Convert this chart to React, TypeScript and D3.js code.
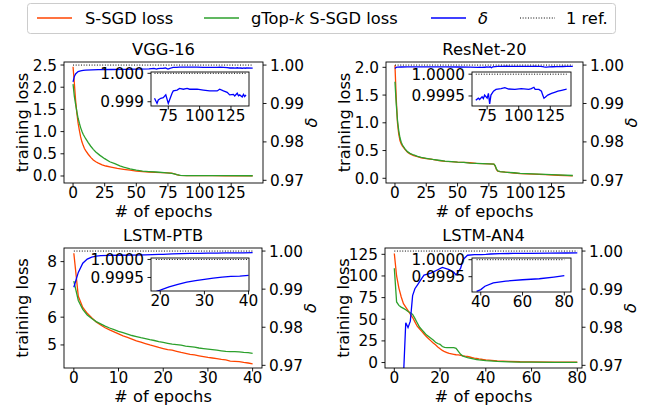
import React from 'react';
import * as d3 from 'd3';

type Pt = [number, number];

const FONT = '"DejaVu Sans", Verdana, sans-serif';
const RED = '#ff4500';
const GREEN = '#2ca02c';
const BLUE = '#0000ff';

// ---- legend / titles ----
const legendLabels = ['S-SGD loss', 'gTop-k S-SGD loss', 'δ', '1 ref.'];
const panelTitles = ['VGG-16', 'ResNet-20', 'LSTM-PTB', 'LSTM-AN4'];

// ---- ticks ----
const deltaTicks = [0.97, 0.98, 0.99, 1.0];
const cnnXTicks = [0, 25, 50, 75, 100, 125];
const ptbXTicks = [0, 10, 20, 30, 40];
const an4XTicks = [0, 20, 40, 60, 80];
const vggLossTicks = [0, 0.5, 1, 1.5, 2, 2.5];
const resLossTicks = [0, 0.5, 1, 1.5, 2];
const ptbLossTicks = [5, 6, 7, 8];
const an4LossTicks = [0, 25, 50, 75, 100, 125];
const cnnInsetXTicks = [75, 100, 125];
const ptbInsetXTicks = [20, 30, 40];
const an4InsetXTicks = [40, 60, 80];
const vggInsetYTicks = [0.999, 1.0];
const fineInsetYTicks = [0.9995, 1.0];

// ---- VGG-16 ----
const vggSsgd: Pt[] = [
  [0, 2.46], [1, 2.1], [2, 1.71], [3, 1.42], [4, 1.19], [5, 1.03], [6, 0.88], [7, 0.77],
  [8, 0.69], [9, 0.62], [10, 0.57], [12, 0.49], [14, 0.42], [16, 0.36], [18, 0.32],
  [20, 0.29], [23, 0.25], [26, 0.225], [30, 0.2], [35, 0.17], [40, 0.15], [45, 0.13],
  [50, 0.11], [55, 0.1], [60, 0.09], [65, 0.08], [70, 0.075], [75, 0.07], [78, 0.065],
  [80, 0.05], [82, 0.03], [84, 0.015], [90, 0.01], [100, 0.008], [110, 0.006],
  [120, 0.005], [130, 0.004], [142, 0.004],
];
const vggGtopk: Pt[] = [
  [0, 2.07], [1, 1.8], [2, 1.62], [3, 1.45], [4, 1.3], [5, 1.19], [6, 1.09], [7, 1.01],
  [8, 0.94], [9, 0.89], [10, 0.84], [12, 0.75], [14, 0.67], [16, 0.6], [18, 0.54],
  [21, 0.47], [25, 0.39], [29, 0.32], [33, 0.28], [37, 0.23], [40, 0.2], [45, 0.16],
  [50, 0.13], [55, 0.11], [60, 0.1], [66, 0.09], [72, 0.075], [78, 0.06], [80, 0.05],
  [82, 0.03], [85, 0.015], [90, 0.01], [100, 0.008], [120, 0.006], [142, 0.005],
];
const vggDelta: Pt[] = [
  [0, 0.9956], [1, 0.997], [2, 0.9977], [3, 0.998], [4, 0.9983], [6, 0.9985], [8, 0.9986],
  [10, 0.9987], [15, 0.99875], [20, 0.9988], [30, 0.99885], [40, 0.9989], [50, 0.99895],
  [60, 0.999], [64, 0.99912], [66, 0.99894], [67, 0.99906], [69, 0.99912], [71, 0.99914],
  [73, 0.99924], [75, 0.99894], [76, 0.99906], [78, 0.9993], [79, 0.99938], [82, 0.99941],
  [84, 0.99947], [87, 0.99944], [90, 0.99947], [92, 0.99944], [98, 0.99944], [103, 0.99941],
  [108, 0.99938], [114, 0.99938], [116, 0.99944], [119, 0.99938], [122, 0.99933],
  [124, 0.99924], [127, 0.99926], [128, 0.9992], [130, 0.9993], [131, 0.99921],
  [132, 0.99924], [134, 0.99917], [135, 0.99926], [136, 0.99918], [137, 0.99924],
  [142, 0.9992],
];

// ---- ResNet-20 ----
const resSsgd: Pt[] = [
  [0, 2.04], [1, 1.45], [2, 1.0], [3, 0.8], [4, 0.68], [5, 0.62], [6, 0.58], [8, 0.52],
  [10, 0.47], [12, 0.44], [15, 0.41], [18, 0.39], [21, 0.37], [25, 0.355], [30, 0.34],
  [35, 0.32], [40, 0.305], [45, 0.3], [50, 0.29], [55, 0.285], [60, 0.28], [65, 0.27],
  [70, 0.265], [75, 0.26], [79, 0.255], [80, 0.22], [81, 0.16], [82, 0.13], [84, 0.12],
  [88, 0.11], [95, 0.095], [100, 0.085], [110, 0.075], [120, 0.065], [130, 0.055],
  [142, 0.045],
];
const resGtopk: Pt[] = [
  [0, 1.74], [1, 1.35], [2, 1.05], [3, 0.86], [4, 0.73], [5, 0.65], [6, 0.6], [8, 0.53],
  [10, 0.48], [12, 0.45], [15, 0.42], [18, 0.395], [21, 0.375], [25, 0.36], [30, 0.34],
  [35, 0.325], [40, 0.31], [45, 0.3], [50, 0.29], [55, 0.285], [60, 0.275], [65, 0.27],
  [70, 0.265], [75, 0.26], [79, 0.255], [80, 0.23], [81, 0.17], [82, 0.135], [84, 0.12],
  [88, 0.11], [95, 0.1], [100, 0.09], [110, 0.08], [120, 0.07], [130, 0.06], [142, 0.05],
];
const resDelta: Pt[] = [
  [0, 0.9991], [1, 0.9994], [2, 0.99945], [5, 0.9995], [10, 0.99952], [20, 0.99955],
  [30, 0.99955], [40, 0.99952], [50, 0.9995], [60, 0.99945], [66, 0.9994], [68, 0.99945],
  [69, 0.99942], [71, 0.99948], [72, 0.99944], [73, 0.99952], [75, 0.99945], [76, 0.99956],
  [77, 0.99932], [78, 0.99952], [80, 0.99961], [82, 0.99965], [86, 0.99967], [89, 0.99969],
  [92, 0.99966], [97, 0.99965], [102, 0.99967], [108, 0.99965], [110, 0.99967],
  [112, 0.9997], [113, 0.99965], [116, 0.99965], [118, 0.99961], [119, 0.99952],
  [120, 0.99945], [121, 0.99947], [123, 0.99952], [126, 0.99956], [129, 0.99959],
  [131, 0.99961], [134, 0.99963], [137, 0.99965], [138, 0.99966], [142, 0.99966],
];

// ---- LSTM-PTB ----
const ptbSsgd: Pt[] = [
  [0, 8.3], [1, 6.75], [2, 6.35], [3, 6.14], [4, 5.98], [5, 5.83], [6, 5.72], [7, 5.62],
  [8, 5.54], [9, 5.47], [10, 5.4], [11, 5.33], [12, 5.27], [13, 5.21], [14, 5.15],
  [15, 5.1], [16, 5.05], [17, 5.0], [18, 4.96], [19, 4.91], [20, 4.87], [21, 4.83],
  [22, 4.81], [23, 4.77], [24, 4.73], [25, 4.7], [26, 4.66], [27, 4.64], [28, 4.61],
  [29, 4.58], [30, 4.55], [31, 4.53], [32, 4.51], [33, 4.48], [34, 4.46], [35, 4.42],
  [36, 4.41], [37, 4.4], [38, 4.37], [39, 4.35], [40, 4.32],
];
const ptbGtopk: Pt[] = [
  [0, 7.3], [1, 6.6], [2, 6.28], [3, 6.08], [4, 5.95], [5, 5.84], [6, 5.76], [7, 5.68],
  [8, 5.61], [9, 5.55], [10, 5.49], [11, 5.44], [12, 5.39], [13, 5.34], [14, 5.3],
  [15, 5.26], [16, 5.23], [17, 5.19], [18, 5.16], [19, 5.12], [20, 5.09], [21, 5.06],
  [22, 5.03], [23, 5.01], [24, 4.99], [25, 4.96], [26, 4.94], [27, 4.92], [28, 4.89],
  [29, 4.87], [30, 4.85], [31, 4.83], [32, 4.81], [33, 4.79], [34, 4.77], [35, 4.76],
  [36, 4.76], [37, 4.75], [38, 4.73], [39, 4.72], [40, 4.7],
];
const ptbDelta: Pt[] = [
  [0, 0.9905], [1, 0.9944], [2, 0.9968], [3, 0.9979], [4, 0.9984], [5, 0.99865],
  [6, 0.9988], [8, 0.99885], [10, 0.9989], [13, 0.99895], [16, 0.999], [19, 0.99911],
  [20, 0.99915], [22, 0.99924], [24, 0.99931], [26, 0.99937], [28, 0.99941], [30, 0.99945],
  [32, 0.99948], [34, 0.99951], [36, 0.99953], [38, 0.99954], [40, 0.99956],
];

// ---- LSTM-AN4 ----
const an4Ssgd: Pt[] = [
  [0, 126], [1, 100], [2, 86], [3, 76], [4, 68], [5, 64], [6, 60], [7, 56], [8, 52],
  [9, 47], [10, 42], [11, 39], [12, 36], [13, 33], [14, 30], [15, 27.5], [16, 25],
  [17, 22.5], [18, 20.5], [19, 18], [20, 16], [21, 14], [22, 12.5], [23, 11.5],
  [24, 10.5], [25, 10], [26, 9.5], [27, 9], [28, 8.8], [29, 8.3], [30, 7.8], [31, 7.3],
  [32, 7], [33, 6.4], [34, 5.8], [35, 5.2], [36, 4.7], [37, 4.2], [38, 3.8], [39, 3.4],
  [40, 3], [45, 2], [50, 1.4], [55, 0.9], [60, 0.7], [70, 0.5], [80, 0.4],
];
const an4Gtopk: Pt[] = [
  [0, 109], [1, 70], [2, 66], [3, 64], [4, 62.5], [5, 61], [6, 59], [7, 57.5], [8, 55.5],
  [9, 51], [10, 46], [11, 41], [12, 38], [13, 35], [14, 32], [15, 30], [16, 28], [17, 26],
  [18, 23.5], [19, 22], [20, 21], [21, 18.5], [22, 17.5], [23, 17.2], [24, 17.3],
  [25, 17.3], [26, 17.2], [27, 16.5], [28, 13], [29, 9.5], [30, 7.5], [31, 6.5], [32, 5.8],
  [33, 5.2], [34, 4.6], [35, 4], [36, 3.5], [37, 3.1], [38, 2.8], [39, 2.5], [40, 2.2],
  [45, 1.3], [50, 0.8], [55, 0.5], [60, 0.4], [70, 0.3], [80, 0.3],
];
const an4Delta: Pt[] = [
  [0, 0.93], [2, 0.95], [4, 0.967], [5, 0.9812], [6, 0.9799], [7, 0.9816], [8, 0.9883],
  [9, 0.9901], [10, 0.991], [12, 0.9928], [13, 0.9937], [16, 0.9942], [19, 0.9951],
  [21, 0.9957], [24, 0.9951], [26, 0.9944], [27, 0.9937], [29, 0.9955], [30, 0.9977],
  [32, 0.9989], [35, 0.99905], [38, 0.99907], [40, 0.99912], [42, 0.99922], [46, 0.99932],
  [52, 0.99937], [60, 0.99941], [68, 0.99944], [75, 0.99949], [80, 0.99953],
];

const DELTA_DOMAIN: [number, number] = [0.9693, 1.0008];

interface Box { x0: number; x1: number; y0: number; y1: number }

const panels = [
  {
    title: panelTitles[0], ssgd: vggSsgd, gtopk: vggGtopk, delta: vggDelta,
    xTicks: cnnXTicks, lossTicks: vggLossTicks, lossFmt: '.1f',
    xDomain: [-7.15, 150.15], lossDomain: [-0.158, 2.568],
    box: { x0: 64, x1: 263, y0: 62, y1: 183 }, inset: { x0: 151, x1: 249, y0: 72, y1: 106 },
    insetRange: [64, 137], insetXDomain: [61.2, 139.4], insetYDomain: [0.99885, 1.000046],
    insetXTicks: cnnInsetXTicks, insetYTicks: vggInsetYTicks, insetFmt: '.3f',
  },
  {
    title: panelTitles[1], ssgd: resSsgd, gtopk: resGtopk, delta: resDelta,
    xTicks: cnnXTicks, lossTicks: resLossTicks, lossFmt: '.1f',
    xDomain: [-7.15, 150.15], lossDomain: [-0.085, 2.096],
    box: { x0: 386, x1: 583, y0: 62, y1: 183 }, inset: { x0: 472, x1: 571, y0: 72, y1: 106 },
    insetRange: [66, 138], insetXDomain: [63, 141.4], insetYDomain: [0.99927, 1.00005],
    insetXTicks: cnnInsetXTicks, insetYTicks: fineInsetYTicks, insetFmt: '.4f',
  },
  {
    title: panelTitles[2], ssgd: ptbSsgd, gtopk: ptbGtopk, delta: ptbDelta,
    xTicks: ptbXTicks, lossTicks: ptbLossTicks, lossFmt: 'd',
    xDomain: [-2.2, 42.1], lossDomain: [4.17, 8.49],
    box: { x0: 64, x1: 262, y0: 248, y1: 368 }, inset: { x0: 151, x1: 249, y0: 258, y1: 291 },
    insetRange: [19, 40], insetXDomain: [17.9, 40.1], insetYDomain: [0.999125, 1.00004],
    insetXTicks: ptbInsetXTicks, insetYTicks: fineInsetYTicks, insetFmt: '.4f',
  },
  {
    title: panelTitles[3], ssgd: an4Ssgd, gtopk: an4Gtopk, delta: an4Delta,
    xTicks: an4XTicks, lossTicks: an4LossTicks, lossFmt: 'd',
    xDomain: [-4.07, 82.05], lossDomain: [-6.3, 132.3],
    box: { x0: 385, x1: 582, y0: 248, y1: 368 }, inset: { x0: 472, x1: 571, y0: 258, y1: 292 },
    insetRange: [38, 80], insetXDomain: [35.8, 83.2], insetYDomain: [0.99905, 1.00005],
    insetXTicks: an4InsetXTicks, insetYTicks: fineInsetYTicks, insetFmt: '.4f',
  },
];

type PanelSpec = (typeof panels)[number];

const TICK = 3.5;
const TICK_FS = 15.3;
const LABEL_FS = 16.3;
const LW = 1.3;

const Panel = ({ p, id }: { p: PanelSpec; id: number }) => {
  const box: Box = p.box;
  const ib: Box = p.inset;
  const x = d3.scaleLinear().domain(p.xDomain).range([box.x0, box.x1]);
  const yL = d3.scaleLinear().domain(p.lossDomain).range([box.y1, box.y0]);
  const yR = d3.scaleLinear().domain(DELTA_DOMAIN).range([box.y1, box.y0]);
  const lossLine = d3.line<Pt>().x(d => x(d[0])).y(d => yL(d[1]));
  const deltaLine = d3.line<Pt>().x(d => x(d[0])).y(d => yR(d[1]));

  const ix = d3.scaleLinear().domain(p.insetXDomain).range([ib.x0, ib.x1]);
  const iy = d3.scaleLinear().domain(p.insetYDomain).range([ib.y1, ib.y0]);
  const insetPts = p.delta.filter(d => d[0] >= p.insetRange[0] && d[0] <= p.insetRange[1]);
  const insetLine = d3.line<Pt>().x(d => ix(d[0])).y(d => iy(d[1]));

  const fmtL = d3.format(p.lossFmt);
  const fmtR = d3.format('.2f');
  const fmtI = d3.format(p.insetFmt);
  const first = p.delta[0][0];
  const last = p.delta[p.delta.length - 1][0];
  const cx = (box.x0 + box.x1) / 2;
  const cy = (box.y0 + box.y1) / 2;

  return (
    <g>
      <defs>
        <clipPath id={`main${id}`}>
          <rect x={box.x0} y={box.y0} width={box.x1 - box.x0} height={box.y1 - box.y0} />
        </clipPath>
        <clipPath id={`ins${id}`}>
          <rect x={ib.x0} y={ib.y0} width={ib.x1 - ib.x0} height={ib.y1 - ib.y0} />
        </clipPath>
      </defs>

      {/* main curves */}
      <g clipPath={`url(#main${id})`} fill="none" strokeWidth={LW}>
        <path d={lossLine(p.ssgd) || ''} stroke={RED} />
        <path d={lossLine(p.gtopk) || ''} stroke={GREEN} />
        <path d={deltaLine(p.delta) || ''} stroke={BLUE} />
        <line x1={x(first)} x2={x(last)} y1={yR(1)} y2={yR(1)} stroke="#000" strokeWidth={1}
          strokeDasharray="1,1.65" />
      </g>
      <rect x={box.x0} y={box.y0} width={box.x1 - box.x0} height={box.y1 - box.y0}
        fill="none" stroke="#000" strokeWidth={0.9} />

      {/* bottom axis */}
      {p.xTicks.map(t => (
        <g key={`x${t}`}>
          <line x1={x(t)} x2={x(t)} y1={box.y1} y2={box.y1 + TICK} stroke="#000" strokeWidth={0.9} />
          <text x={x(t)} y={box.y1 + 14.5} textAnchor="middle" fontSize={TICK_FS}>{t}</text>
        </g>
      ))}
      {/* left axis */}
      {p.lossTicks.map(t => (
        <g key={`l${t}`}>
          <line x1={box.x0 - TICK} x2={box.x0} y1={yL(t)} y2={yL(t)} stroke="#000" strokeWidth={0.9} />
          <text x={box.x0 - 7} y={yL(t)} dy="0.36em" textAnchor="end" fontSize={TICK_FS}>{fmtL(t)}</text>
        </g>
      ))}
      {/* right axis */}
      {deltaTicks.map(t => (
        <g key={`r${t}`}>
          <line x1={box.x1} x2={box.x1 + TICK} y1={yR(t)} y2={yR(t)} stroke="#000" strokeWidth={0.9} />
          <text x={box.x1 + 7} y={yR(t)} dy="0.36em" textAnchor="start" fontSize={TICK_FS}>{fmtR(t)}</text>
        </g>
      ))}

      <text x={cx} y={box.y0 - 7} textAnchor="middle" fontSize={LABEL_FS}>{p.title}</text>
      <text x={cx} y={box.y1 + 34} textAnchor="middle" fontSize={LABEL_FS}># of epochs</text>
      <text transform={`translate(${box.x0 - 36},${cy}) rotate(-90)`} textAnchor="middle" fontSize={LABEL_FS}>
        training loss
      </text>
      <text transform={`translate(${box.x1 + 54},${cy}) rotate(-90)`} textAnchor="middle" fontSize={LABEL_FS}
        fontStyle="italic">δ</text>

      {/* inset */}
      <rect x={ib.x0} y={ib.y0} width={ib.x1 - ib.x0} height={ib.y1 - ib.y0} fill="#fff" />
      <g clipPath={`url(#ins${id})`} fill="none" strokeWidth={LW}>
        <path d={insetLine(insetPts) || ''} stroke={BLUE} />
        <line x1={ix(insetPts[0][0])} x2={ix(insetPts[insetPts.length - 1][0])} y1={iy(1)} y2={iy(1)}
          stroke="#000" strokeWidth={1} strokeDasharray="1,1.65" />
      </g>
      <rect x={ib.x0} y={ib.y0} width={ib.x1 - ib.x0} height={ib.y1 - ib.y0}
        fill="none" stroke="#000" strokeWidth={0.9} />
      {p.insetXTicks.map(t => (
        <g key={`ix${t}`}>
          <line x1={ix(t)} x2={ix(t)} y1={ib.y1} y2={ib.y1 + TICK} stroke="#000" strokeWidth={0.9} />
          <text x={ix(t)} y={ib.y1 + 14.5} textAnchor="middle" fontSize={TICK_FS}>{t}</text>
        </g>
      ))}
      {p.insetYTicks.map(t => (
        <g key={`iy${t}`}>
          <line x1={ib.x0 - TICK} x2={ib.x0} y1={iy(t)} y2={iy(t)} stroke="#000" strokeWidth={0.9} />
          <text x={ib.x0 - 7} y={iy(t)} dy="0.36em" textAnchor="end" fontSize={TICK_FS}>{fmtI(t)}</text>
        </g>
      ))}
    </g>
  );
};

const Legend = () => {
  const lineX = [37, 204, 431, 520];
  const textX = [85, 251, 478, 566];
  const styles = [
    { stroke: RED, dash: undefined },
    { stroke: GREEN, dash: undefined },
    { stroke: BLUE, dash: undefined },
    { stroke: '#000', dash: '1,1.65' },
  ];
  return (
    <g>
      <rect x={27.5} y={3.5} width={588} height={30} rx={3} fill="#fff" stroke="#cccccc" strokeWidth={1} />
      {legendLabels.map((lab, i) => (
        <g key={lab}>
          <line x1={lineX[i]} x2={lineX[i] + 35} y1={18} y2={18} stroke={styles[i].stroke}
            strokeWidth={i === 3 ? 1 : LW} strokeDasharray={styles[i].dash} />
          <text x={textX[i]} y={23.5} fontSize={LABEL_FS}>
            {i === 1 ? (
              <>gTop-<tspan fontStyle="italic">k</tspan> S-SGD loss</>
            ) : i === 2 ? (
              <tspan fontStyle="italic">{lab}</tspan>
            ) : lab}
          </text>
        </g>
      ))}
    </g>
  );
};

const App = () => (
  <svg width={655} height={415} viewBox="0 0 655 415" fontFamily={FONT}
    style={{ position: 'absolute', left: 0, top: 0, background: '#fff' }}>
    <rect width={655} height={415} fill="#fff" />
    <Legend />
    {panels.map((p, i) => <Panel key={p.title} p={p} id={i} />)}
  </svg>
);

export default App;
